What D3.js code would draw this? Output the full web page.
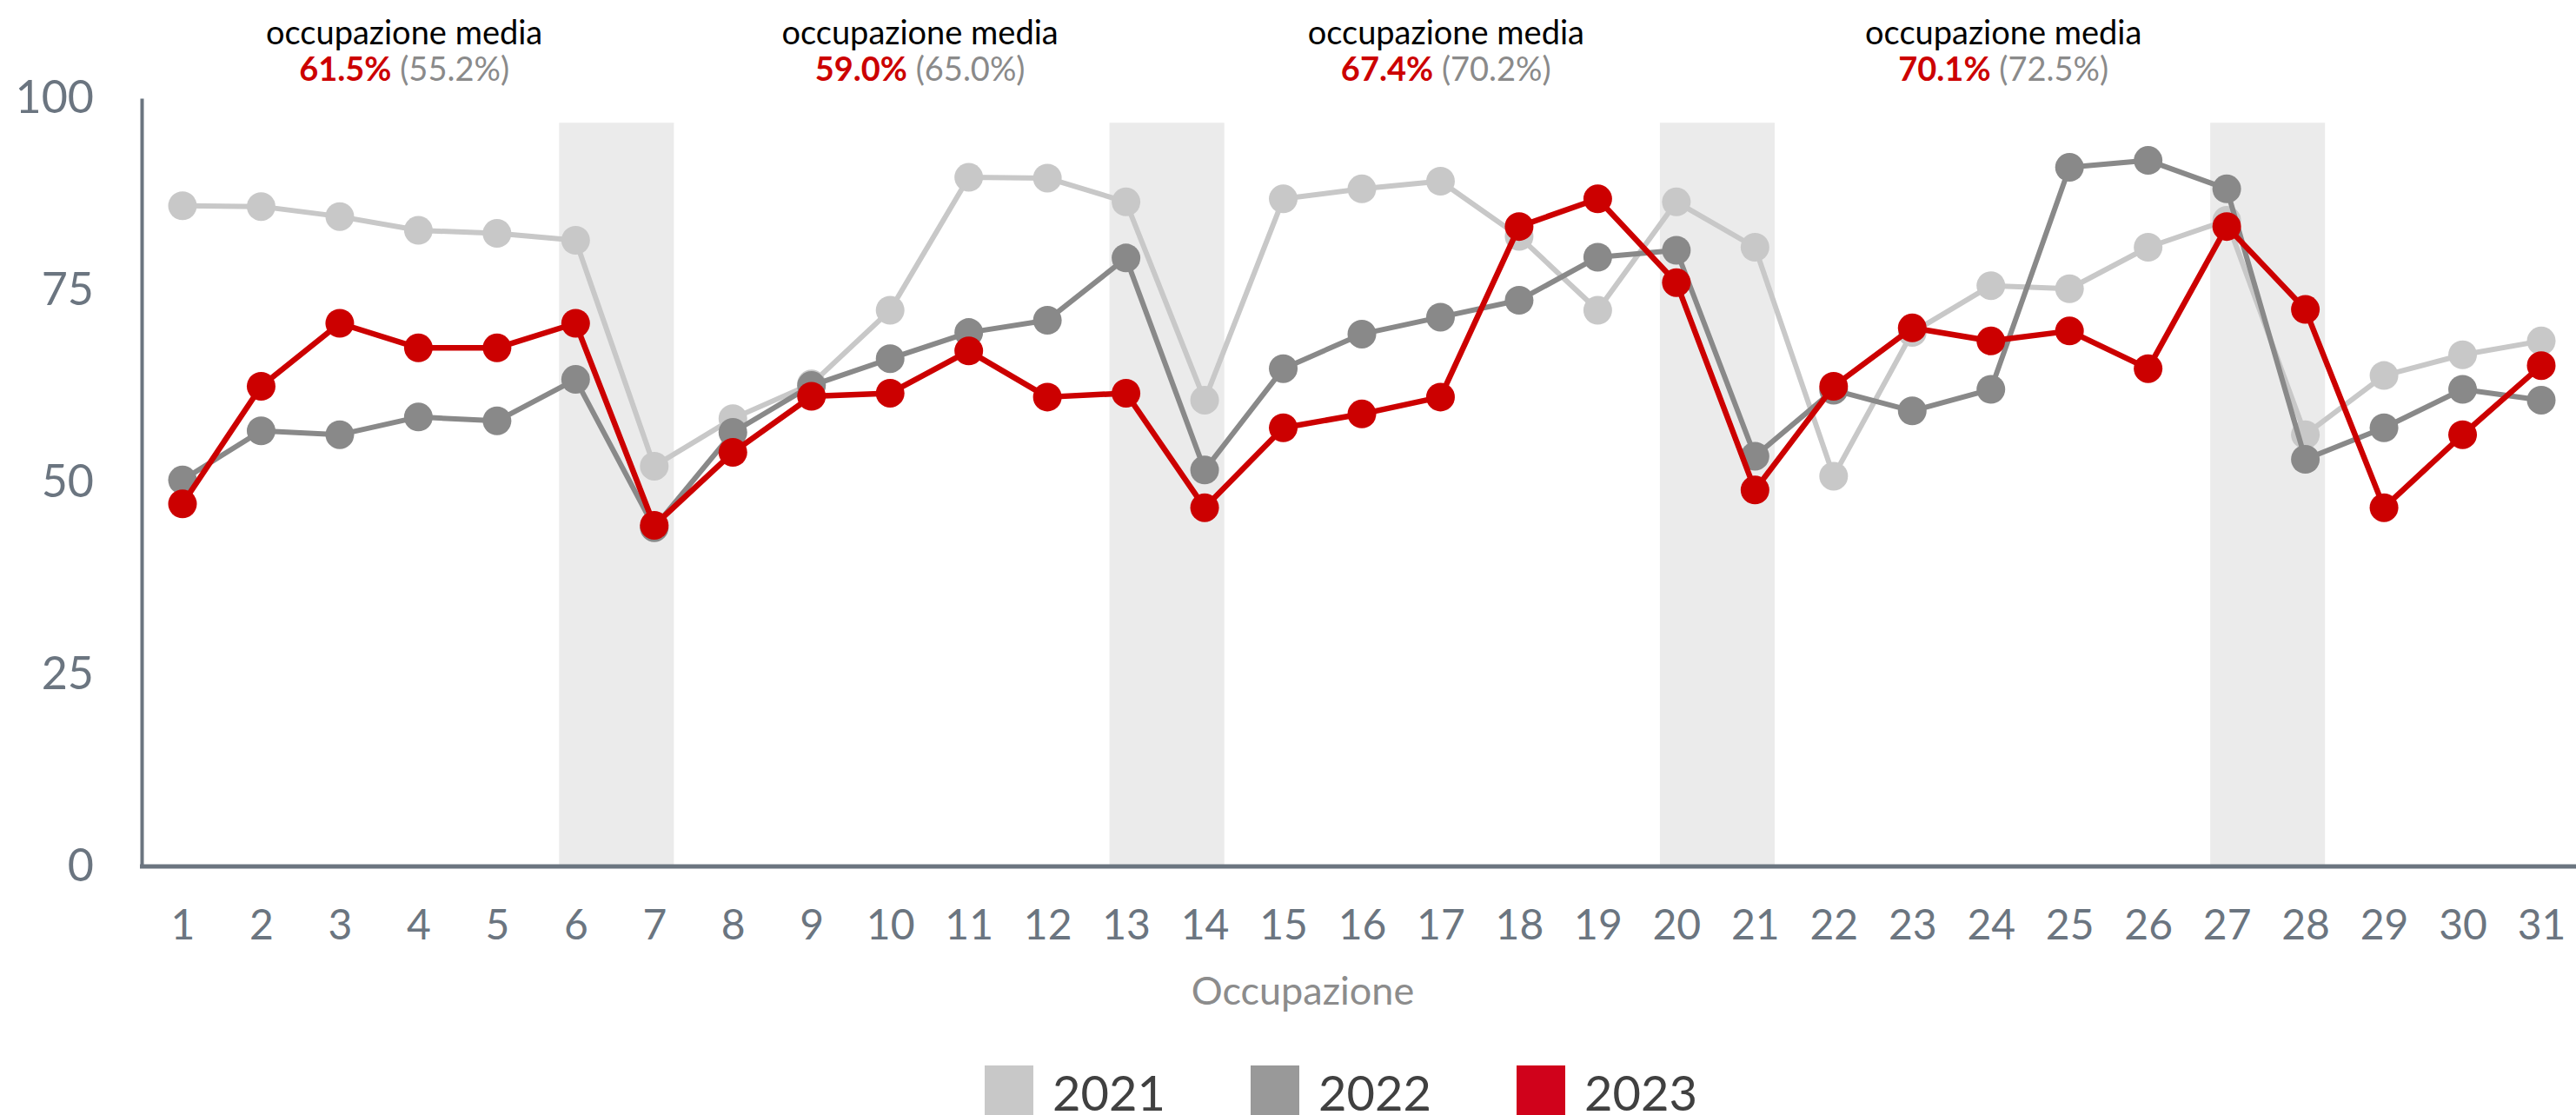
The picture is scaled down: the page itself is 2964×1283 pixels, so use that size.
<!DOCTYPE html>
<html>
<head>
<meta charset="utf-8">
<script src="https://cdn.jsdelivr.net/npm/d3@7"></script>
<style>
  body { margin: 0; background: #fff; }
  svg { display: block; font-family: Lato, "Noto Sans", sans-serif; }
</style>
</head>
<body>
<svg id="chart" width="2964" height="1283"></svg>
<script>
// days of the month (x categories)
var days = [1, 2, 3, 4, 5, 6, 7, 8, 9, 10, 11, 12, 13, 14, 15, 16, 17, 18, 19, 20, 21, 22, 23, 24, 25, 26, 27, 28, 29, 30, 31];

// occupancy per day
var occ2021 = [86.0, 85.9, 84.6, 82.8, 82.4, 81.5, 52.1, 58.3, 62.8, 72.4, 89.7, 89.6, 86.5, 60.7, 86.9, 88.2, 89.2, 82.0, 72.4, 86.5, 80.6, 50.8, 69.5, 75.6, 75.2, 80.6, 84.1, 56.2, 63.9, 66.6, 68.4];
var occ2022 = [50.3, 56.7, 56.2, 58.5, 58.0, 63.4, 44.1, 56.5, 62.6, 66.1, 69.5, 71.1, 79.2, 51.6, 64.8, 69.3, 71.5, 73.7, 79.3, 80.2, 53.4, 62.0, 59.3, 62.1, 91.0, 91.9, 88.2, 53.0, 57.1, 62.1, 60.7];
var occ2023 = [47.2, 62.5, 70.7, 67.5, 67.5, 70.7, 44.4, 53.9, 61.2, 61.6, 67.1, 61.1, 61.6, 46.7, 57.1, 58.9, 61.1, 83.3, 86.9, 76.0, 49.0, 62.5, 70.1, 68.4, 69.7, 64.8, 83.3, 72.5, 46.7, 56.2, 65.2];

var yTicks = [0, 25, 50, 75, 100];

// weekends (first day of each shaded pair)
var weekendStarts = [6, 13, 20, 27];

// weekly averages shown above the chart
var avgLabel = "occupazione media";
var avg2023 = ["61.5%", "59.0%", "67.4%", "70.1%"];
var avg2022 = ["(55.2%)", "(65.0%)", "(70.2%)", "(72.5%)"];

var years = ["2021", "2022", "2023"];

var lineColors = { "2021": "#c8c8c8", "2022": "#898989", "2023": "#cc0000" };
var legendColors = { "2021": "#c8c8c8", "2022": "#999999", "2023": "#d0021b" };

var series = [
  { id: "2021", values: occ2021 },
  { id: "2022", values: occ2022 },
  { id: "2023", values: occ2023 }
];

var svg = d3.select("#chart"),
    axisColor = "#6b7580";

var x = d3.scaleLinear().domain([1, 31]).range([210, 2924]),
    y = d3.scaleLinear().domain([0, 100]).range([997, 113]);

// weekend bands
svg.append("g").selectAll("rect")
  .data(weekendStarts)
  .enter().append("rect")
    .attr("x", function(d) { return x(d - 0.21); })
    .attr("width", function(d) { return x(d + 1.25) - x(d - 0.21); })
    .attr("y", y(96.8))
    .attr("height", y(0) - y(96.8))
    .attr("fill", "#ebebeb");

// axes
var yAxis = svg.append("g")
    .attr("transform", "translate(163,0)")
    .call(d3.axisLeft(y).tickValues(yTicks).tickSize(0).tickPadding(55));
yAxis.select(".domain").attr("stroke", axisColor).attr("stroke-width", 4);
yAxis.selectAll("text")
    .attr("fill", axisColor)
    .style("font-size", "52px")
    .style("font-family", "Lato");

var xAxis = svg.append("g")
    .attr("transform", "translate(0,997)")
    .call(d3.axisBottom(x).tickValues(days).tickFormat(d3.format("d")).tickSize(0).tickPadding(50));
xAxis.select(".domain").remove();
xAxis.selectAll("text")
    .attr("fill", axisColor)
    .style("font-size", "48px")
    .style("font-family", "Lato");

svg.append("line")
    .attr("x1", 161).attr("x2", 2964)
    .attr("y1", 997).attr("y2", 997)
    .attr("stroke", axisColor)
    .attr("stroke-width", 5);

svg.append("text")
    .attr("x", 1499)
    .attr("y", 1156)
    .attr("text-anchor", "middle")
    .attr("fill", "#8c8c8c")
    .style("font-size", "45px")
    .text("Occupazione");

// lines + dots
var line = d3.line()
    .x(function(d, i) { return x(days[i]); })
    .y(function(d) { return y(d); });

var yr = svg.selectAll(".year")
  .data(series)
  .enter().append("g")
    .attr("class", "year");

yr.append("path")
    .attr("d", function(d) { return line(d.values); })
    .attr("fill", "none")
    .attr("stroke", function(d) { return lineColors[d.id]; })
    .attr("stroke-width", function(d) { return d.id === "2023" ? 6.5 : 6; })
    .attr("stroke-linejoin", "round");

yr.selectAll("circle")
  .data(function(d) { return d.values.map(function(v, i) { return { id: d.id, day: days[i], v: v }; }); })
  .enter().append("circle")
    .attr("cx", function(d) { return x(d.day); })
    .attr("cy", function(d) { return y(d.v); })
    .attr("r", 16.5)
    .attr("fill", function(d) { return lineColors[d.id]; });

// weekly averages
var annCenters = [3.82, 10.38, 17.07, 24.16];
var ann = svg.selectAll(".avg")
  .data(avg2023)
  .enter().append("g")
    .attr("class", "avg");

ann.append("text")
    .attr("x", function(d, i) { return x(annCenters[i]); })
    .attr("y", 51)
    .attr("text-anchor", "middle")
    .attr("fill", "#000")
    .style("font-size", "38px")
    .text(avgLabel);

var t2 = ann.append("text")
    .attr("x", function(d, i) { return x(annCenters[i]); })
    .attr("y", 93)
    .attr("text-anchor", "middle")
    .style("font-size", "38px");
t2.append("tspan")
    .attr("fill", "#cc0000")
    .style("font-weight", "bold")
    .text(function(d) { return d; });
t2.append("tspan")
    .attr("fill", "#8a8a8a")
    .text(function(d, i) { return " " + avg2022[i]; });

// legend
var lg = svg.selectAll(".legend")
  .data(years)
  .enter().append("g")
    .attr("class", "legend")
    .attr("transform", function(d, i) { return "translate(" + (1133 + i * 306) + ",1226)"; });

lg.append("rect")
    .attr("width", 56)
    .attr("height", 60)
    .attr("fill", function(d) { return legendColors[d]; });

lg.append("text")
    .attr("x", 78)
    .attr("y", 52)
    .attr("fill", "#404040")
    .style("font-size", "56px")
    .text(function(d) { return d; });
</script>
</body>
</html>
